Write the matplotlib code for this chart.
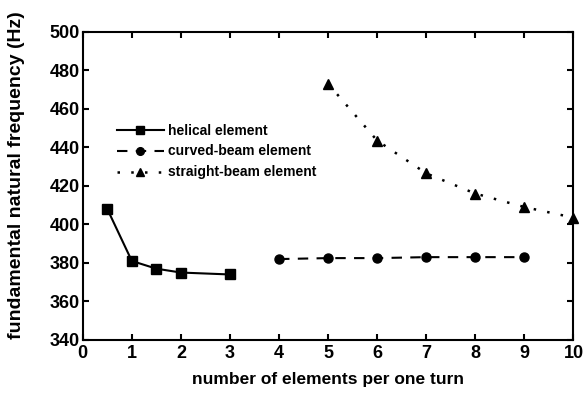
import matplotlib
matplotlib.use('Agg')
import matplotlib.pyplot as plt

plt.rcParams['font.family'] = 'Liberation Sans'
plt.rcParams['font.weight'] = 'bold'

# data
helical_x = [0.5, 1, 1.5, 2, 3]
helical_y = [408, 381, 377, 375, 374]
curved_x = [4, 5, 6, 7, 8, 9]
curved_y = [382, 382.5, 382.5, 383, 383, 383]
straight_x = [5, 6, 7, 8, 9, 10]
straight_y = [473, 443.5, 426.5, 416, 409, 403.5]

fig = plt.figure(figsize=(5.87, 3.93), dpi=100)
ax = fig.add_axes([0.141, 0.135, 0.836, 0.784])

ax.plot(helical_x, helical_y, '-', color='black', marker='s', markersize=6.5, lw=1.5,
        label='helical element')
ax.plot(curved_x, curved_y, linestyle=(0, (5, 4)), color='black', marker='o',
        markersize=6.5, lw=1.5, label='curved-beam element')
ax.plot(straight_x, straight_y, linestyle=(0, (1, 4.5)), color='black', marker='^',
        markersize=7.5, lw=1.8, label='straight-beam element', clip_on=False)

ax.set_xlim(0, 10)
ax.set_ylim(340, 500)
ax.set_xticks(range(0, 11))
ax.set_yticks(range(340, 501, 20))
ax.tick_params(direction='in', top=True, right=True, length=4, width=1.5, labelsize=13)
ax.tick_params(axis='y', pad=2)
for s in ax.spines.values():
    s.set_linewidth(1.5)

ax.set_xlabel('number of elements per one turn', fontsize=12.5, fontweight='bold', labelpad=7)
ax.set_ylabel('fundamental natural frequency (Hz)', fontsize=14, fontweight='bold')
ax.yaxis.set_label_coords(-0.118, 0.535)

ax.legend(loc='upper left', bbox_to_anchor=(0.055, 0.725), frameon=False, fontsize=10,
          handlelength=3.4, handletextpad=0.3, labelspacing=0.5, borderpad=0,
          markerscale=0.85)

fig.savefig('out.png', dpi=100)
